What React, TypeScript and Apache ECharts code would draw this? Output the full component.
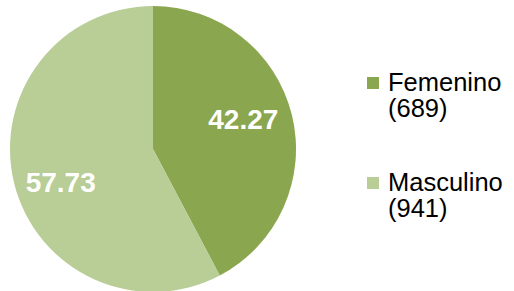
import React, { useEffect, useRef } from "react";
import * as echarts from "echarts";

const categories = ["Femenino", "Masculino"];
const percents = [42.27, 57.73];
const counts = [689, 941];
const colors = ["#8AA64E", "#B9CD96"];
const labelOffsets = [[18, -12], [-20, 16]];

export default function App() {
  const ref = useRef<HTMLDivElement>(null);
  useEffect(() => {
    if (!ref.current) return;
    const chart = echarts.init(ref.current, undefined, { renderer: "svg" });
    const legendGraphics: any[] = [];
    const font = "25.5px 'Liberation Sans', Arial, sans-serif";
    categories.forEach((c, i) => {
      const top = 72 + i * 100;
      legendGraphics.push({
        type: "rect",
        shape: { x: 367, y: top + 5, width: 12, height: 12 },
        style: { fill: colors[i] },
      });
      legendGraphics.push({
        type: "text",
        x: 388,
        y: top - 3,
        style: { text: c, fill: "#000", font, textVerticalAlign: "top" },
      });
      legendGraphics.push({
        type: "text",
        x: 388,
        y: top + 23,
        style: { text: "(" + counts[i] + ")", fill: "#000", font, textVerticalAlign: "top" },
      });
    });
    chart.setOption({
      animation: false,
      backgroundColor: "#fff",
      graphic: legendGraphics,
      series: [
        {
          type: "pie",
          center: [153, 149],
          radius: [0, 143],
          startAngle: 90,
          clockwise: true,
          silent: true,
          label: {
            show: true,
            position: "inside",
            color: "#fff",
            fontSize: 28,
            fontWeight: "bold",
            fontFamily: "'Liberation Sans', Arial, sans-serif",
            formatter: (p: any) => percents[p.dataIndex].toFixed(2),
          },
          labelLine: { show: false },
          itemStyle: { borderWidth: 0 },
          data: categories.map((c, i) => ({
            name: c,
            value: percents[i],
            itemStyle: { color: colors[i] },
            label: { offset: labelOffsets[i] },
          })),
        },
      ],
    });
    return () => chart.dispose();
  }, []);
  return <div ref={ref} style={{ width: 514, height: 291, position: "absolute", left: 0, top: 0 }} />;
}
